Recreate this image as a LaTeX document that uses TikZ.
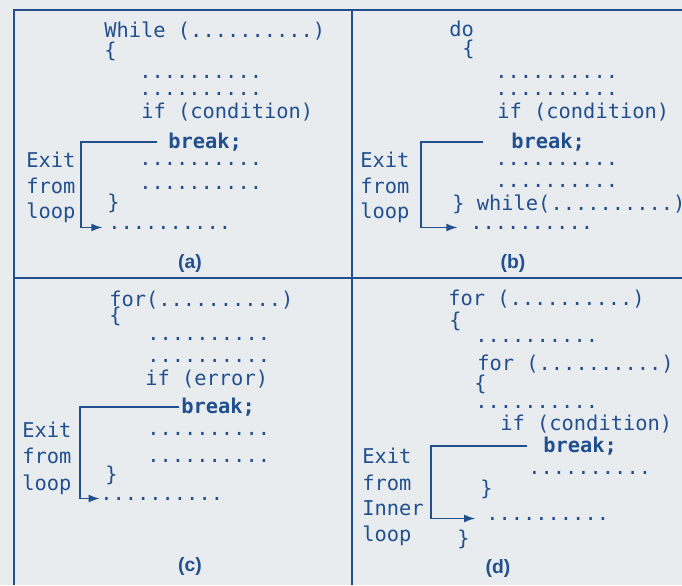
\documentclass[tikz,border=0pt]{standalone}
\usepackage{fontspec}
\setmainfont{Liberation Sans}
\newfontfamily\codefont{DejaVu Sans Mono}
\usetikzlibrary{arrows.meta}
\definecolor{inkBlue}{HTML}{22508E}
\definecolor{paperGray}{HTML}{E8ECEF}
\newcommand\codedots{..........}
\newcommand\codesize{\fontsize{11.6pt}{13pt}\selectfont}
\tikzset{
  code/.style      = {anchor=base west, inner sep=0pt, text=inkBlue,
                      font=\codefont\codesize},
  brk/.style       = {code, font=\codefont\codesize\bfseries},
  caption/.style   = {inner sep=0pt, text=inkBlue, font=\fontsize{11pt}{12pt}\selectfont\bfseries},
  exitArrow/.style = {-{Latex[length=6.5pt,width=4.5pt]}, line width=1pt, draw=inkBlue},
  frame/.style     = {draw=inkBlue, line width=1pt}
}

\begin{document}
\begin{tikzpicture}[x=0.02cm, y=-0.02cm]
  % paper and frame
  \fill[paperGray] (0,0) rectangle (682,585);
  \useasboundingbox (0,0) rectangle (682,585);
  \draw[frame] (14,585) -- (14,10) -- (682,10);
  \draw[frame] (352,10) -- (352,585);
  \draw[frame] (14,278) -- (682,278);
  % (a) while loop
  \foreach \i/\x/\y/\txt in {
      1/104/37/While (\codedots),
      2/104/57/\{,
      3/139/78/\codedots,
      4/139/95/\codedots,
      5/141/118/if (condition),
      7/139/165/\codedots,
      8/139/189/\codedots,
      9/107/209/\},
      10/108/229/\codedots}{
    \node[code] (a\i) at (\x,\y) {\txt};
  }
  \node[brk] (brkA) at (168,148) {break;};
  \foreach \i/\y/\txt in {1/167/Exit, 2/193/from, 3/218/loop}
    \node[code] (exitA\i) at (26,\y) {\txt};
  \coordinate (barA) at (81,185);
  \draw[exitArrow, shorten <=6pt, shorten >=3pt] (brkA.west) -| (barA) |- (a10.west);
  \node[caption] (capA) at (190,263) {(a)};
  % (b) do-while loop
  \foreach \i/\x/\y/\txt in {
      1/449/36/do,
      2/462/55/\{,
      3/495/78/\codedots,
      4/495/95/\codedots,
      5/497/118/if (condition),
      7/495/165/\codedots,
      8/495/187/\codedots,
      9/452/210/\} while(\codedots),
      10/470/229/\codedots}{
    \node[code] (b\i) at (\x,\y) {\txt};
  }
  \node[brk] (brkB) at (511,148) {break;};
  \foreach \i/\y/\txt in {1/167/Exit, 2/193/from, 3/218/loop}
    \node[code] (exitB\i) at (360,\y) {\txt};
  \coordinate (barB) at (421,185);
  \draw[exitArrow, shorten <=16pt, shorten >=7pt] (brkB.west) -| (barB) |- (b10.west);
  \node[caption] (capB) at (513,263) {(b)};
  % (c) for loop
  \foreach \i/\x/\y/\txt in {
      1/109/306/for(\codedots),
      2/109/322/\{,
      3/147/340/\codedots,
      4/147/362/\codedots,
      5/145/385/if (error),
      7/147/435/\codedots,
      8/147/462/\codedots,
      9/105/481/\},
      10/100/500/\codedots}{
    \node[code] (c\i) at (\x,\y) {\txt};
  }
  \node[brk] (brkC) at (181,413) {break;};
  \foreach \i/\y/\txt in {1/437/Exit, 2/463/from, 3/490/loop}
    \node[code] (exitC\i) at (22,\y) {\txt};
  \coordinate (barC) at (80,455);
  \draw[exitArrow, shorten <=1pt] (brkC.west) -| (barC) |- (c10.west);
  \node[caption] (capC) at (190,566) {(c)};
  % (d) nested for loops
  \foreach \i/\x/\y/\txt in {
      1/448/305/for (\codedots),
      2/449/327/\{,
      3/475/342/\codedots,
      4/477/370/for (\codedots),
      5/474/390/\{,
      6/475/408/\codedots,
      7/500/430/if (condition),
      9/528/474/\codedots,
      10/480/495/\},
      11/486/520/\codedots,
      12/457/545/\}}{
    \node[code] (d\i) at (\x,\y) {\txt};
  }
  \node[brk] (brkD) at (543,452) {break;};
  \foreach \i/\y/\txt in {1/463/Exit, 2/490/from, 3/515/Inner, 4/541/loop}
    \node[code] (exitD\i) at (362,\y) {\txt};
  \coordinate (barD) at (431,485);
  \draw[exitArrow, shorten <=9pt, shorten >=6pt] (brkD.west) -| (barD) |- (d11.west);
  \node[caption] (capD) at (498,568) {(d)};
\end{tikzpicture}
\end{document}
